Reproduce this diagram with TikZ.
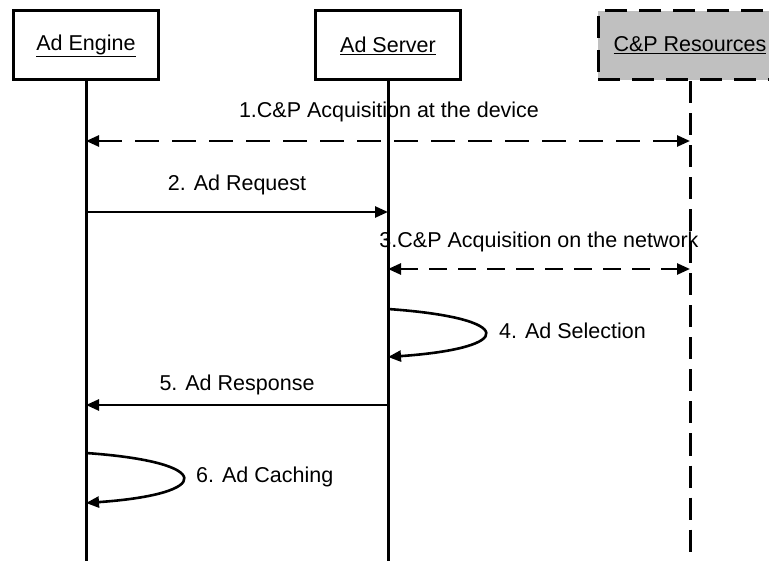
\documentclass[tikz,border=0pt]{standalone}
\usepackage{fontspec}
\setmainfont{Liberation Sans}
\usetikzlibrary{arrows.meta}
\definecolor{boxgray}{RGB}{192,192,192}
\begin{document}
\begin{tikzpicture}[x=1pt,y=-1pt,
  every node/.style={font=\fontsize{21.5}{25}\selectfont},
  actor/.style={draw,line width=3pt,minimum width=145pt,minimum height=69pt,inner sep=0pt},
  lifeline/.style={line width=3pt},
  msg/.style={line width=2.6pt,-{Triangle[length=13pt,width=11pt]}},
  dmsg/.style={line width=2.6pt,{Triangle[length=13pt,width=11pt]}-{Triangle[length=13pt,width=11pt]}},
  lbl/.style={inner sep=0pt}]
\useasboundingbox (0,0) rectangle (769,561);
\begin{scope}
\clip (0,0) rectangle (769,561);
\node[actor] (eng) at (86,45.5) {\underline{Ad Engine}};
\node[actor] (srv) at (388,45.5) {\underline{Ad Server}};
\node[actor,fill=boxgray,dash pattern=on 22pt off 12pt,minimum width=184pt] (res) at (690,45.5) {\underline{C\&P Resources}};
\end{scope}
\coordinate (engE) at (86,561);
\coordinate (srvE) at (388,561);
\coordinate (resE) at (690,561);
\draw[lifeline] (eng.south) -- (engE);
\draw[lifeline] (srv.south) -- (srvE);
\draw[lifeline,dash pattern=on 22pt off 10pt] (res.south) -- (resE);
% messages
\coordinate (e1) at (86,141); \coordinate (r1) at (690,141);
\draw[dmsg,dash pattern=on 24pt off 13pt] (e1) -- (r1);
\node[lbl] (l1) at (389,112) {1.C\&P Acquisition at the device};
\coordinate (e2) at (86,212); \coordinate (s2) at (388,212);
\draw[msg] (e2) -- (s2);
\node[lbl] (l2) at (237,185) {2. Ad Request};
\coordinate (s3) at (388,269); \coordinate (r3) at (690,269);
\draw[dmsg,dash pattern=on 18pt off 11pt] (s3) -- (r3);
\node[lbl] (l3) at (539,242) {3.C\&P Acquisition on the network};
\coordinate (s4a) at (388,309); \coordinate (s4b) at (388,357);
\draw[msg] (s4a) .. controls (517,318) and (517,348) .. (s4b);
\node[lbl,anchor=west] (l4) at (499,331) {4. Ad Selection};
\coordinate (s5) at (388,405); \coordinate (e5) at (86,405);
\draw[msg] (s5) -- (e5);
\node[lbl] (l5) at (237,385) {5. Ad Response};
\coordinate (e6a) at (86,453); \coordinate (e6b) at (86,503);
\draw[msg] (e6a) .. controls (215,462) and (215,494) .. (e6b);
\node[lbl,anchor=west] (l6) at (196,477) {6. Ad Caching};
\end{tikzpicture}
\end{document}
